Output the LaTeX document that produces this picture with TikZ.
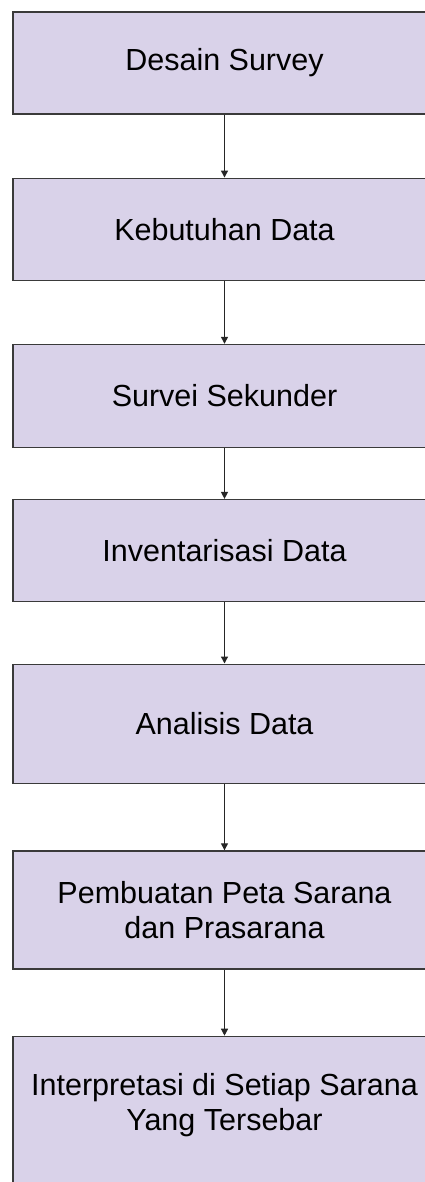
\documentclass[tikz,border=0pt]{standalone}
\usepackage{fontspec}
\setmainfont{Liberation Sans}
\usetikzlibrary{arrows.meta}
\definecolor{boxfill}{HTML}{D9D2E9}
\definecolor{boxline}{HTML}{3A3A3A}
\tikzset{
  stepbox/.style={draw=boxline, line width=1.4pt, fill=boxfill, minimum width=423pt,
    inner sep=0pt, align=center, font=\fontsize{30.5}{35}\selectfont},
  flow/.style={draw=black!85, line width=1.3pt, -{Triangle[length=7pt,width=7pt]}}
}
\begin{document}
\begin{tikzpicture}[x=1pt,y=-1pt]
\useasboundingbox (0,0) rectangle (425,1182);
\clip (0,0) rectangle (425,1182);
\node[stepbox, minimum height=102pt] (b1) at (224.5,63) {Desain Survey};
\node[stepbox, minimum height=102.5pt] (b2) at (224.5,229.5) {Kebutuhan Data};
\node[stepbox, minimum height=103pt] (b3) at (224.5,396) {Survei Sekunder};
\node[stepbox, minimum height=102pt] (b4) at (224.5,550.6) {Inventarisasi Data};
\node[stepbox, minimum height=119pt] (b5) at (224.5,723.7) {Analisis Data};
\node[stepbox, minimum height=118pt] (b6) at (224.5,910) {Pembuatan Peta Sarana\\dan Prasarana};
\node[stepbox, minimum height=154pt, anchor=north] (b7) at (224.5,1035.7) {};
\node[align=center, font=\fontsize{30.5}{35}\selectfont, inner sep=0pt] (t7) at (224.5,1105) {Interpretasi di Setiap Sarana\\Yang Tersebar};
\draw[flow] (b1.south) -- (b2.north);
\draw[flow] (b2.south) -- (b3.north);
\draw[flow] (b3.south) -- (b4.north);
\draw[flow] (b4.south) -- (b5.north);
\draw[flow] (b5.south) -- (b6.north);
\draw[flow] (b6.south) -- (b7.north);
\end{tikzpicture}
\end{document}
